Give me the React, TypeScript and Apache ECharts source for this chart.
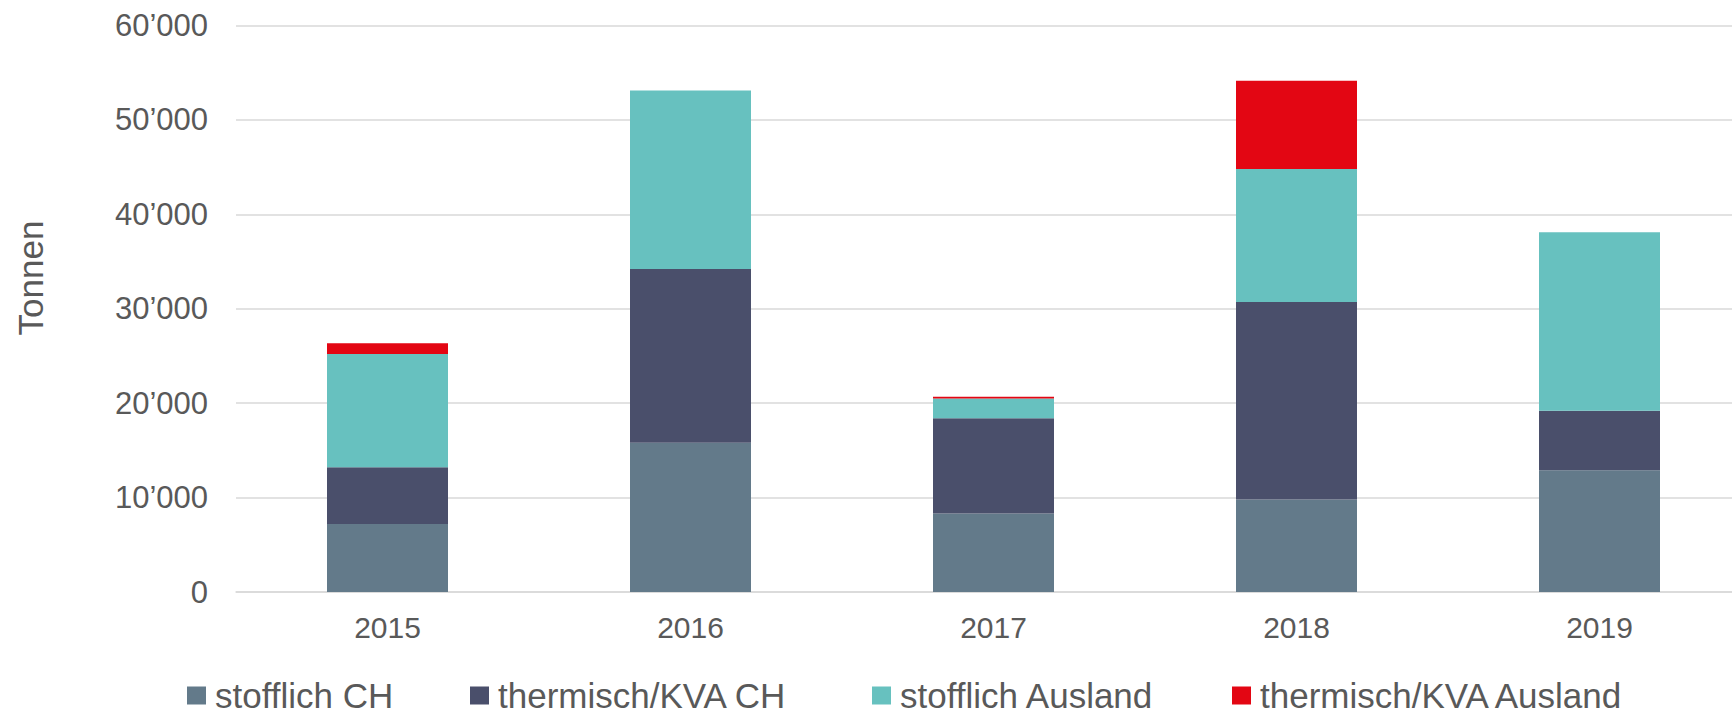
import React, { useEffect, useRef } from "react";
import * as echarts from "echarts";

const years = ["2015", "2016", "2017", "2018", "2019"];
const seriesNames = ["stofflich CH", "thermisch/KVA CH", "stofflich Ausland", "thermisch/KVA Ausland"];
const stofflichCH = [7200, 15800, 8300, 9800, 12900];
const thermischCH = [6000, 18400, 10100, 20900, 6300];
const stofflichAusland = [12000, 18900, 2100, 14100, 18900];
const thermischAusland = [1150, 0, 180, 9350, 0];
const colors = ["#637A8A", "#4A4F6B", "#67C1BF", "#E30613"];
const legendLefts = [187, 470, 872, 1232];
const yTitle = "Tonnen";

const fmt = (v: number) => {
  if (v === 0) return "0";
  const s = String(v);
  return s.slice(0, s.length - 3) + "\u2019" + s.slice(s.length - 3);
};

export default function App() {
  const ref = useRef<HTMLDivElement>(null);
  useEffect(() => {
    if (!ref.current) return;
    const chart = echarts.init(ref.current, null, { renderer: "svg" });
    const values = [stofflichCH, thermischCH, stofflichAusland, thermischAusland];
    const font = "'Liberation Sans', Arial, sans-serif";
    chart.setOption({
      animation: false,
      backgroundColor: "#ffffff",
      textStyle: { fontFamily: font, color: "#595959" },
      grid: { left: 236, top: 25.4, right: 0, bottom: 123, containLabel: false },
      xAxis: {
        type: "category",
        data: years,
        axisTick: { show: false },
        axisLine: { lineStyle: { color: "#D9D9D9", width: 1.5 } },
        axisLabel: { fontSize: 30, color: "#595959", margin: 20, fontFamily: font },
      },
      yAxis: {
        type: "value",
        min: 0,
        max: 60000,
        interval: 10000,
        axisLine: { show: false },
        axisTick: { show: false },
        splitLine: { lineStyle: { color: "#D9D9D9", width: 1.5 } },
        axisLabel: { fontSize: 31, color: "#595959", margin: 28, fontFamily: font, formatter: (v: number) => fmt(v) },
      },
      legend: seriesNames.map((n, i) => ({
        data: [n],
        left: legendLefts[i],
        top: 678,
        padding: 0,
        itemWidth: 19,
        itemHeight: 18,
        icon: "rect",
        textStyle: { fontSize: 35, lineHeight: 35, color: "#595959", fontFamily: font, padding: [0, 0, 0, 4] },
      })),
      graphic: [
        {
          type: "text",
          x: 30,
          y: 278,
          rotation: Math.PI / 2,
          style: {
            text: yTitle,
            fontSize: 35,
            fontFamily: font,
            fill: "#595959",
            align: "center",
            verticalAlign: "middle",
          },
        },
      ],
      series: seriesNames.map((n, i) => ({
        name: n,
        type: "bar",
        stack: "total",
        barWidth: 121,
        data: values[i],
        itemStyle: { color: colors[i] },
      })),
    });
    return () => chart.dispose();
  }, []);
  return (
    <div style={{ width: 1732, height: 715, position: "absolute", left: 0, top: 0, overflow: "hidden" }}>
      <div ref={ref} style={{ width: 1751, height: 715, position: "absolute", left: 0, top: 0 }} />
    </div>
  );
}
